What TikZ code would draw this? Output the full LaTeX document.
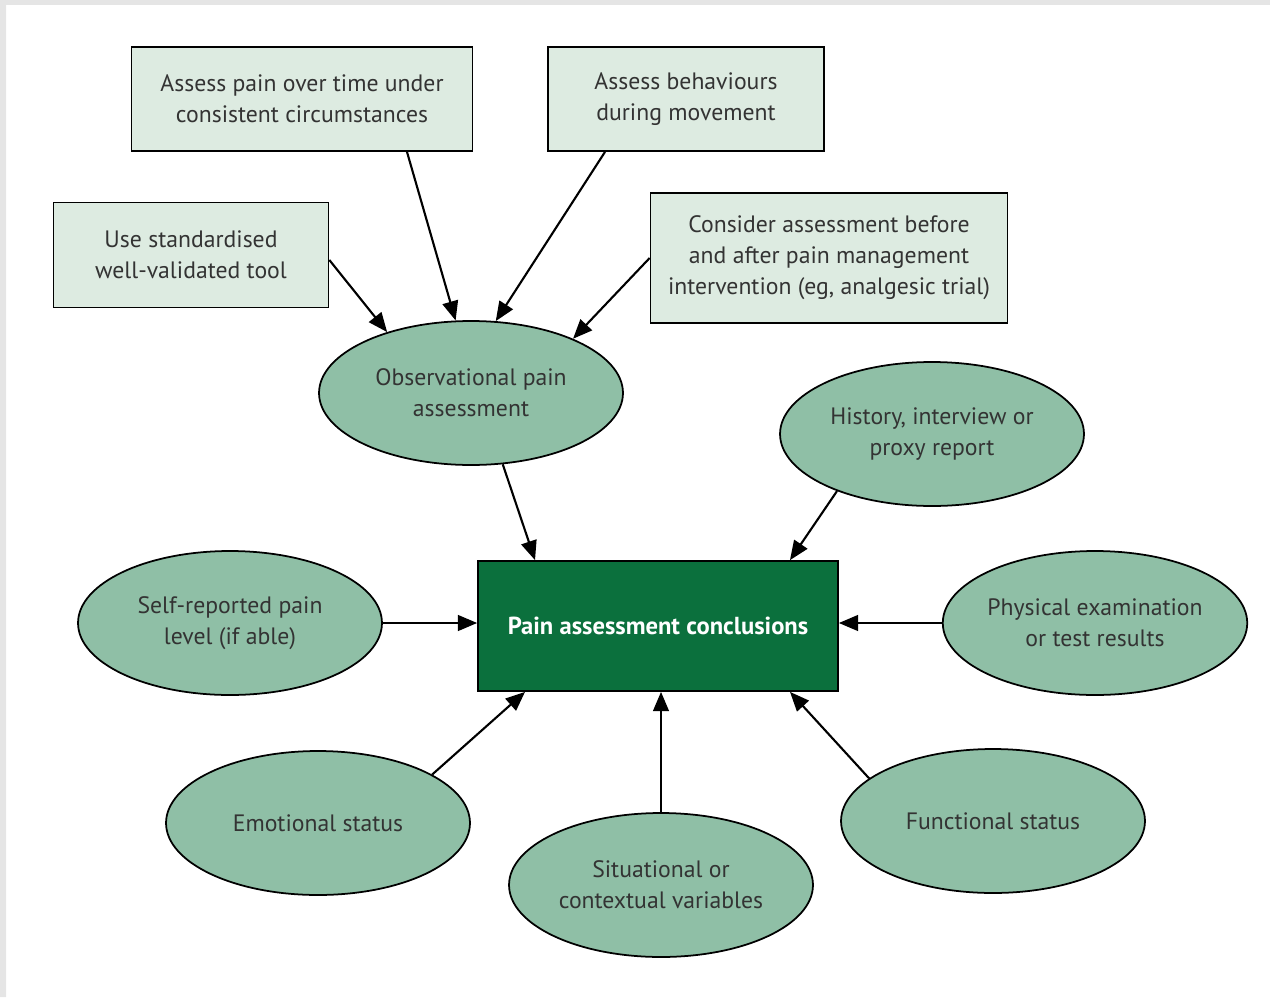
\documentclass[tikz,border=0pt]{standalone}
\usepackage{fontspec}
\setmainfont{PT Sans}
\usetikzlibrary{shapes.geometric,arrows.meta}
\definecolor{boxfill}{HTML}{DDEBE1}
\definecolor{ovalfill}{HTML}{8FBFA6}
\definecolor{darkgreen}{HTML}{0B703D}
\definecolor{txt}{HTML}{333333}

\begin{document}
\begin{tikzpicture}[x=0.02cm,y=-0.02cm,>={Triangle[length=11pt,width=9pt]},
	tip/.style={draw,fill=boxfill,line width=1pt,align=center,inner sep=0pt,text=txt,
		font=\fontsize{13.5}{17.6}\selectfont},
	oval/.style={ellipse,draw,fill=ovalfill,line width=1pt,minimum width=6.08cm,
		minimum height=2.88cm,inner sep=0pt,align=center,text=txt,
		font=\fontsize{13.5}{17.6}\selectfont},
	arr/.style={->,line width=1.2pt}]
	\useasboundingbox (0,0) rectangle (1270,997);
	\fill[black!10] (0,0) rectangle (1270,5) (0,0) rectangle (6,997);
	% advice boxes
	\node[tip,minimum width=6.82cm,minimum height=2.08cm] (time) at (302,99)
		{Assess pain over time under\\consistent circumstances};
	\node[tip,minimum width=5.52cm,minimum height=2.08cm] (move) at (686,99)
		{Assess behaviours\\during movement};
	\node[tip,minimum width=5.5cm,minimum height=2.1cm] (tool) at (191,255)
		{Use standardised\\well-validated tool};
	\node[tip,minimum width=7.14cm,minimum height=2.6cm] (trial) at (829,258)
		{Consider assessment before\\and after pain management\\intervention (eg, analgesic trial)};
	% sources
	\node[oval] (obs) at (471,393) {Observational pain\\assessment};
	\node[oval] (hist) at (932,434) {History, interview or\\proxy report};
	\node[oval] (self) at (230,623) {Self-reported pain\\level (if able)};
	\node[oval] (phys) at (1095,623) {Physical examination\\or test results};
	\node[oval] (emo) at (318,823) {Emotional status};
	\node[oval] (sit) at (661,885) {Situational or\\contextual variables};
	\node[oval] (func) at (993,821) {Functional status};
	% conclusions
	\node[draw,fill=darkgreen,line width=1pt,minimum width=7.2cm,minimum height=2.6cm,
		text=white,font=\fontsize{14}{17.6}\selectfont\bfseries] (pain) at (658,626)
		{Pain assessment conclusions};
	% arrows
	\draw[arr] ([xshift=2.1cm]time.south) -- (obs.102);
	\draw[arr] ([xshift=-1.62cm]move.south) -- (obs.71);
	\draw[arr] ([yshift=-0.1cm]tool.east) -- (obs.144);
	\draw[arr] (trial.west) -- (obs.28);
	\draw[arr] (obs.-66) -- ([xshift=-2.46cm]pain.north);
	\draw[arr] (hist.211) -- ([xshift=2.64cm]pain.north);
	\draw[arr] (self.east) -- (self.east -| pain.west);
	\draw[arr] (phys.west) -- (phys.west -| pain.east);
	\draw[arr] (emo.23) -- ([xshift=-2.66cm]pain.south);
	\draw[arr] (sit.north) -- (sit.north |- pain.south);
	\draw[arr] (func.161) -- ([xshift=2.64cm]pain.south);
\end{tikzpicture}
\end{document}
